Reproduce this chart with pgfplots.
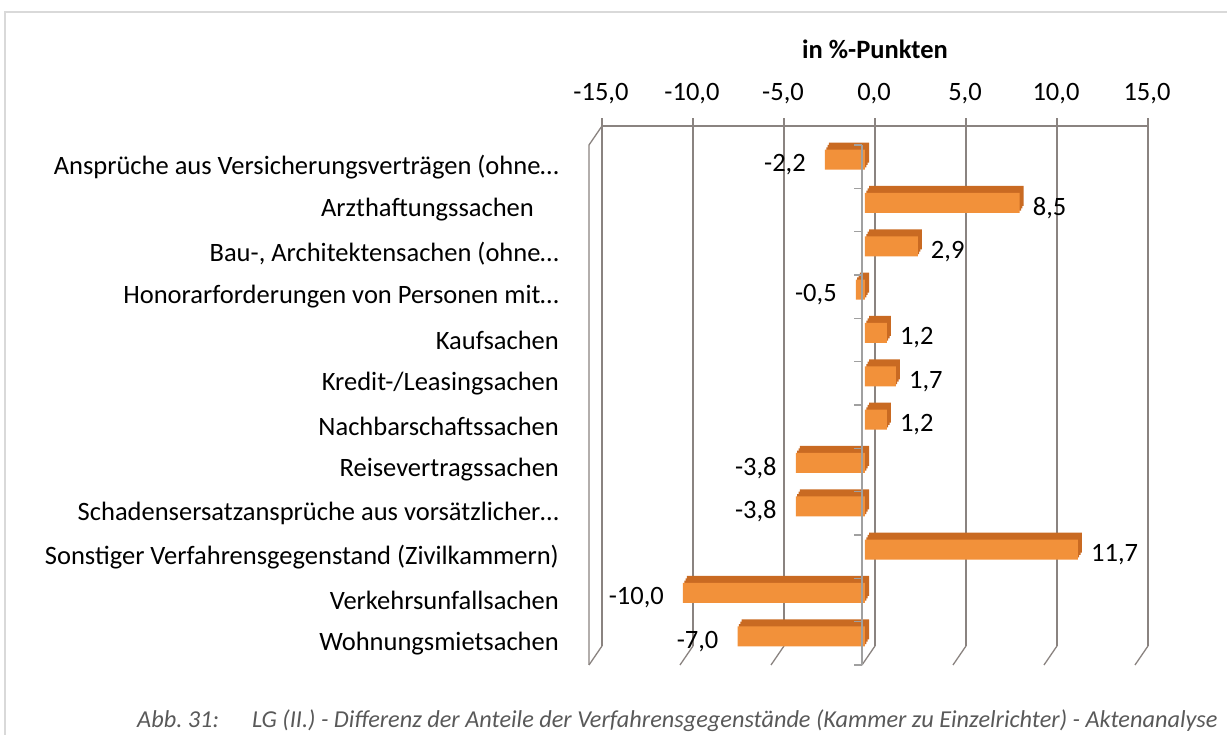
\documentclass[border=0pt]{standalone}
\usepackage{fontspec}
\setmainfont{Carlito}
\usepackage{pgfplots}
\usepackage{pgfplotstable}
\pgfplotsset{compat=1.18}
\definecolor{gridc}{HTML}{8A8380}
\definecolor{axisc}{HTML}{A0A0A0}
\definecolor{barf}{HTML}{F2913A}
\definecolor{bard}{HTML}{C96A22}
\definecolor{capc}{HTML}{595959}
\definecolor{framec}{HTML}{D9D9D9}
\pgfplotstableread{
k val
11 -2.2
10 8.5
9 2.9
8 -0.5
7 1.2
6 1.7
5 1.2
4 -3.8
3 -3.8
2 11.7
1 -10.0
0 -7.0
}\datatable
\pgfkeys{/pgf/number format/assume math mode=true}
\newcommand{\lbl}{\fontsize{26.5}{30}\selectfont}
\begin{document}
\begin{tikzpicture}
\path[use as bounding box] (0,0) rectangle (1227pt,735pt);
\draw[framec, line width=2pt] (4pt,722.5pt) -- (1227pt,722.5pt);
\draw[framec, line width=2pt] (5pt,722.5pt) -- (5pt,0pt);
\begin{axis}[
  at={(589pt,70pt)}, anchor=south west,
  scale only axis, width=546pt, height=520pt,
  xmin=-15, xmax=15, ymin=-0.5, ymax=11.5,
  axis line style={draw=none},
  tick style={draw=none},
  xtick={-15,-10,...,15},
  xticklabel pos=upper,
  xticklabel={\pgfmathprintnumber[fixed,fixed zerofill,precision=1,use comma]{\tick}},
  xticklabel style={font=\lbl, anchor=base, inner sep=0pt, xshift=12pt, yshift=44pt},
  ytick={0,...,11},
  yticklabels={Wohnungsmietsachen, Verkehrsunfallsachen, Sonstiger Verfahrensgegenstand (Zivilkammern), Schadensersatzansprüche aus vorsätzlicher…, Reisevertragssachen, Nachbarschaftssachen, Kredit-/Leasingsachen, Kaufsachen, Honorarforderungen von Personen mit…, {Bau-, Architektensachen (ohne…}, Arzthaftungssachen\kern25pt\null, Ansprüche aus Versicherungsverträgen (ohne…},
  yticklabel style={font=\lbl, anchor=east, inner sep=0pt, xshift=-30pt},
  clip=false,
  mybar/.style={xbar, bar width=20pt, bar shift=0pt, draw=none},
]
% back wall grid
\pgfplotsinvokeforeach{-15,-10,-5,0,5,10,15}{
  \draw[gridc, line width=1.3pt] ([xshift=13pt,yshift=19pt]axis cs:#1,-0.5) -- ([xshift=13pt,yshift=19pt]axis cs:#1,11.5);
  \draw[gridc, line width=1.3pt] ([xshift=13pt,yshift=19pt]axis cs:#1,-0.5) -- (axis cs:#1,-0.5);
  \draw[gridc, line width=1.3pt] ([xshift=13pt,yshift=19pt]axis cs:#1,11.5) -- ([xshift=13pt,yshift=27pt]axis cs:#1,11.5);
}
\draw[gridc, line width=1.3pt] ([xshift=13pt,yshift=19pt]axis cs:-15,11.5) -- ([xshift=13pt,yshift=19pt]axis cs:15,11.5);
\draw[gridc, line width=1.3pt] (axis cs:-15,-0.5) -- (axis cs:-15,11.5) -- ([xshift=13pt,yshift=19pt]axis cs:-15,11.5);
% bars: extrusion copies then front face
\addplot[mybar, fill=bard, xshift=7pt, yshift=14pt] table[x=val,y=k] {\datatable};
\addplot[mybar, fill=bard, xshift=5.7pt, yshift=11.7pt] table[x=val,y=k] {\datatable};
\addplot[mybar, fill=bard, xshift=4.3pt, yshift=9.3pt] table[x=val,y=k] {\datatable};
\addplot[mybar, fill=barf, xshift=3pt, yshift=7pt] table[x=val,y=k] {\datatable};
% value labels
\addplot[mybar, fill=none, point meta=x,
  nodes near coords={\pgfmathprintnumber[fixed,fixed zerofill,precision=1,use comma]{\pgfplotspointmeta}},
  nodes near coords align=horizontal,
  every node near coord/.append style={font=\lbl, inner xsep=16pt, inner ysep=0pt, yshift=2pt, text=black}
] table[x=val,y=k] {\datatable};
% front zero axis
\draw[axisc, line width=1.5pt] (axis cs:0,-0.5) -- (axis cs:0,11.5);
\pgfplotsinvokeforeach{-0.5,0.5,1.5,2.5,3.5,4.5,5.5,6.5,7.5,8.5,9.5,10.5,11.5}{
  \draw[axisc, line width=1.5pt] (axis cs:0,#1) -- ([xshift=-8pt]axis cs:0,#1);
}
\end{axis}
\node[anchor=base, font=\bfseries\lbl, inner sep=0pt] at (875pt,676pt) {in \%-Punkten};
\node[anchor=base west, font=\itshape\fontsize{24.3}{28}\selectfont, text=capc, inner sep=0pt] at (137pt,7pt) {Abb.\ 31:};
\node[anchor=base west, font=\itshape\fontsize{24.3}{28}\selectfont, text=capc, inner sep=0pt] at (252pt,7pt) {LG (II.) - Differenz der Anteile der Verfahrensgegenstände (Kammer zu Einzelrichter) - Aktenanalyse};
\end{tikzpicture}
\end{document}
